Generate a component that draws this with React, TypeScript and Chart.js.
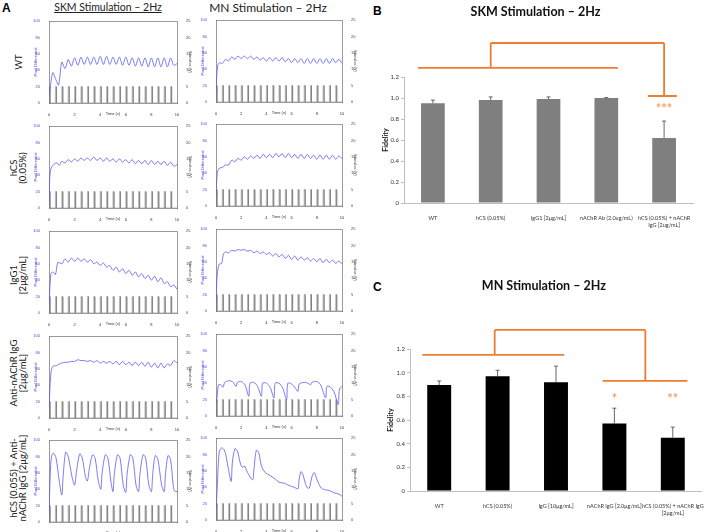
import { useEffect, useRef } from "react";
import { Chart, registerables } from "chart.js";

Chart.register(...registerables);

// ---------------- Panel A : traces ----------------
const timeTicks = [0, 2, 4, 6, 8, 10];
const pixelTicks = [0, 20, 40, 60, 80, 100];
const stimulusTicks = [0, 5, 10, 15, 20, 25];
const stimulusPulseStarts = [0, 0.5, 1, 1.5, 2, 2.5, 3, 3.5, 4, 4.5, 5, 5.5, 6, 6.5, 7, 7.5, 8, 8.5, 9, 9.5];
const stimulusPulseWidth = 0.08;
const stimulusVolts = 5;

const traceSkmWT = [[0,10],[0.1,20],[0.3,37],[0.5,30],[0.75,22],[1.0,50],[1.25,42],[1.5,53],[1.75,45],[2.0,55],[2.25,46],[2.5,56],[2.75,47],[3.0,56],[3.25,47],[3.5,56],[3.75,47],[4.0,57],[4.25,47],[4.5,57],[4.75,47],[5.0,56],[5.25,47],[5.5,56],[5.75,46],[6.0,56],[6.25,46],[6.5,55],[6.75,45],[7.0,55],[7.25,45],[7.5,55],[7.75,44],[8.0,55],[8.25,44],[8.5,55],[8.75,44],[9.0,55],[9.25,44],[9.5,55],[9.75,46],[10,48]];
const traceMnWT = [[0,12],[0.05,30],[0.15,45],[0.3,48],[0.5,47],[0.75,52],[1.0,50],[1.25,55],[1.5,52],[1.75,56],[2.0,53],[2.25,56],[2.5,53],[2.75,56],[3.0,52],[3.25,55],[3.5,51],[3.75,54],[4.0,50],[4.25,54],[4.5,50],[4.75,54],[5.0,50],[5.25,54],[5.5,49],[5.75,53],[6.0,48],[6.25,53],[6.5,48],[6.75,53],[7.0,47],[7.25,53],[7.5,47],[7.75,53],[8.0,47],[8.25,53],[8.5,47],[8.75,53],[9.0,47],[9.25,53],[9.5,48],[9.75,52],[10,47]];
const traceSkmHcs = [[0,10],[0.1,45],[0.3,52],[0.6,55],[0.8,52],[1.0,57],[1.25,55],[1.5,59],[1.75,56],[2.0,60],[2.25,57],[2.5,61],[2.75,58],[3.0,61],[3.25,58],[3.5,62],[3.75,58],[4.0,61],[4.25,57],[4.5,61],[4.75,57],[5.0,60],[5.25,56],[5.5,60],[5.75,56],[6.0,59],[6.25,55],[6.5,59],[6.75,54],[7.0,58],[7.25,54],[7.5,58],[7.75,53],[8.0,58],[8.25,53],[8.5,57],[8.75,53],[9.0,57],[9.25,52],[9.5,56],[9.75,51],[10,53]];
const traceMnHcs = [[0,10],[0.1,40],[0.25,46],[0.5,47],[0.75,50],[1.0,50],[1.25,56],[1.5,54],[1.75,58],[2.0,56],[2.25,60],[2.5,57],[2.75,61],[3.0,58],[3.25,62],[3.5,58],[3.75,63],[4.0,59],[4.25,63],[4.5,59],[4.75,64],[5.0,60],[5.25,64],[5.5,59],[5.75,64],[6.0,59],[6.25,63],[6.5,58],[6.75,63],[7.0,58],[7.25,63],[7.5,58],[7.75,62],[8.0,57],[8.25,62],[8.5,57],[8.75,62],[9.0,57],[9.25,62],[9.5,57],[9.75,61],[10,58]];
const traceSkmIgg = [[0,10],[0.15,48],[0.3,50],[0.5,47],[0.7,62],[1.0,60],[1.25,66],[1.5,62],[1.75,67],[2.0,63],[2.25,67],[2.5,63],[2.75,66],[3.0,62],[3.25,65],[3.5,60],[3.75,62],[4.0,58],[4.25,61],[4.5,56],[4.75,58],[5.0,52],[5.25,56],[5.5,50],[5.75,54],[6.0,48],[6.25,52],[6.5,46],[6.75,50],[7.0,44],[7.25,48],[7.5,42],[7.75,46],[8.0,40],[8.25,45],[8.5,38],[8.75,43],[9.0,36],[9.25,38],[9.5,32],[9.75,34],[10,29]];
const traceMnIgg = [[0,10],[0.1,45],[0.25,57],[0.45,58],[0.6,70],[0.8,72],[1.0,71],[1.25,74],[1.5,73],[1.75,75],[2.0,74],[2.25,75],[2.5,73],[2.75,74],[3.0,71],[3.25,73],[3.5,70],[3.75,72],[4.0,69],[4.25,71],[4.5,67],[4.75,70],[5.0,66],[5.25,69],[5.5,64],[5.75,68],[6.0,63],[6.25,67],[6.5,62],[6.75,66],[7.0,62],[7.25,65],[7.5,61],[7.75,64],[8.0,60],[8.25,64],[8.5,59],[8.75,63],[9.0,59],[9.25,62],[9.5,58],[9.75,61],[10,57]];
const traceSkmAnti = [[0,12],[0.15,55],[0.3,63],[0.6,64],[0.8,66],[1.0,67],[1.25,68],[1.5,68],[1.75,69],[2.0,69],[2.25,71],[2.5,70],[2.75,70],[3.0,69],[3.25,70],[3.5,68],[3.75,70],[4.0,67],[4.25,69],[4.5,67],[4.75,69],[5.0,66],[5.25,69],[5.5,65],[5.75,69],[6.0,65],[6.25,68],[6.5,64],[6.75,68],[7.0,64],[7.25,68],[7.5,63],[7.75,68],[8.0,62],[8.25,67],[8.5,61],[8.75,67],[9.0,61],[9.25,66],[9.5,64],[9.75,70],[10,67]];
const traceMnAnti = [[0,15],[0.1,25],[0.2,38],[0.4,38],[0.55,35],[0.7,41],[1.0,43],[1.3,42],[1.6,36],[1.7,41],[2.0,42],[2.3,38],[2.6,24],[2.7,40],[3.0,41],[3.3,36],[3.6,24],[3.7,40],[4.0,40],[4.3,35],[4.6,22],[4.7,40],[5.0,40],[5.3,34],[5.6,20],[5.7,40],[6.0,39],[6.3,34],[6.5,30],[6.6,39],[7.0,41],[7.3,40],[7.5,38],[7.6,41],[8.0,42],[8.3,38],[8.7,22],[8.8,36],[9.1,35],[9.4,28],[9.7,14],[9.8,33],[10,36]];
const traceSkmCombo = [[0,10],[0.1,60],[0.2,80],[0.35,84],[0.55,78],[0.8,50],[1.0,33],[1.1,55],[1.3,85],[1.5,80],[1.8,55],[2.0,45],[2.15,62],[2.4,83],[2.6,78],[2.85,55],[3.0,50],[3.15,65],[3.4,82],[3.6,78],[3.85,50],[4.05,40],[4.15,60],[4.4,82],[4.6,78],[4.85,48],[5.0,37],[5.1,58],[5.35,82],[5.55,78],[5.8,45],[6.0,36],[6.1,58],[6.35,82],[6.55,78],[6.8,45],[7.0,37],[7.1,58],[7.35,82],[7.55,78],[7.8,45],[8.0,37],[8.1,58],[8.3,81],[8.5,77],[8.8,45],[9.0,37],[9.1,58],[9.3,81],[9.5,76],[9.7,45],[9.8,38],[10,37]];
const traceMnCombo = [[0,12],[0.1,40],[0.25,82],[0.45,88],[0.7,84],[0.95,65],[1.2,47],[1.3,70],[1.5,87],[1.7,84],[1.95,68],[2.1,64],[2.25,66],[2.5,58],[2.9,49],[3.0,60],[3.2,85],[3.4,82],[3.6,66],[3.9,58],[4.3,54],[4.7,50],[5.0,46],[5.4,45],[5.8,42],[6.2,40],[6.5,38],[6.6,50],[6.75,59],[6.9,55],[7.2,40],[7.4,39],[7.6,52],[7.8,58],[8.0,50],[8.3,40],[8.6,37],[9.0,36],[9.4,33],[9.7,32],[10,29]];

// ---------------- Panel B ----------------
const skmCategories = ["WT", "hCS (0.05%)", "IgG1 [2μg/mL]", "nAChR Ab (2.0ug/mL)", ["hCS (0.05%) + nAChR", "IgG [2ug/mL]"]];
const skmFidelity = [0.95, 0.98, 0.99, 1.0, 0.62];
const skmFidelityErr = [0.03, 0.03, 0.02, 0.004, 0.16];

// ---------------- Panel C ----------------
const mnCategories = ["WT", "hCS (0.05%)", "IgG [10μg/mL]", "nAChR IgG [2.0μg/mL]", ["hCS (0.05%) + nAChR IgG", "[2μg/mL]"]];
const mnFidelity = [0.895, 0.97, 0.92, 0.57, 0.45];
const mnFidelityErr = [0.035, 0.05, 0.135, 0.13, 0.09];

const fidelityTicks = [0, 0.2, 0.4, 0.6, 0.8, 1, 1.2];

const ORANGE = "#ED7D31";
const ORANGE_LIGHT = "#F2A266";

const boxPlugin = {
  id: "boxTop",
  afterDraw(chart: any) {
    const { ctx, chartArea } = chart;
    ctx.save();
    ctx.strokeStyle = "#555";
    ctx.lineWidth = 0.6;
    ctx.beginPath();
    ctx.moveTo(chartArea.left, chartArea.top + 0.5);
    ctx.lineTo(chartArea.right, chartArea.top + 0.5);
    ctx.stroke();
    ctx.restore();
  },
};

const errorBarPlugin = {
  id: "errorBars",
  afterDatasetsDraw(chart: any, _args: any, opts: any) {
    const { ctx } = chart;
    const meta = chart.getDatasetMeta(0);
    const ys = chart.scales.y;
    const vals = chart.data.datasets[0].data;
    ctx.save();
    ctx.strokeStyle = opts.color || "#333";
    ctx.lineWidth = 0.8;
    meta.data.forEach((bar: any, i: number) => {
      const x = bar.x;
      const y0 = ys.getPixelForValue(vals[i]);
      const y1 = ys.getPixelForValue(vals[i] + opts.errors[i]);
      ctx.beginPath();
      ctx.moveTo(x, y0);
      ctx.lineTo(x, y1);
      ctx.moveTo(x - 2, y1);
      ctx.lineTo(x + 2, y1);
      ctx.stroke();
    });
    ctx.restore();
  },
};

const bracketPlugin = {
  id: "brackets",
  afterDraw(chart: any, _args: any, opts: any) {
    const { ctx } = chart;
    const xs = chart.scales.x;
    const ys = chart.scales.y;
    ctx.save();
    ctx.strokeStyle = ORANGE;
    ctx.lineWidth = 1.8;
    ctx.beginPath();
    (opts.segments || []).forEach((s: number[]) => {
      ctx.moveTo(xs.getPixelForValue(s[0]), ys.getPixelForValue(s[1]));
      ctx.lineTo(xs.getPixelForValue(s[2]), ys.getPixelForValue(s[3]));
    });
    ctx.stroke();
    ctx.fillStyle = ORANGE_LIGHT;
    ctx.font = "bold 13px Lato";
    ctx.textAlign = "center";
    ctx.textBaseline = "middle";
    (opts.marks || []).forEach((m: any) => {
      ctx.fillText(m.text, xs.getPixelForValue(m.x), ys.getPixelForValue(m.y));
    });
    ctx.restore();
  },
};

function setTicks(values: number[]) {
  return (scale: any) => {
    scale.ticks = values.map((v) => ({ value: v }));
  };
}

type TraceProps = { trace: number[][]; left: number; top: number; width: number; height: number };

function TraceChart({ trace, left, top, width, height }: TraceProps) {
  const ref = useRef<HTMLCanvasElement>(null);
  const AX_L = 17, AX_R = 17, PAD_T = 4, AX_B = 13;
  const cw = width + AX_L + AX_R;
  const ch = height + PAD_T + AX_B;
  useEffect(() => {
    const stim: { x: number; y: number }[] = [];
    stimulusPulseStarts.forEach((t) => {
      stim.push({ x: t, y: 0 }, { x: t, y: stimulusVolts }, { x: t + stimulusPulseWidth, y: stimulusVolts }, { x: t + stimulusPulseWidth, y: 0 });
    });
    stim.push({ x: 10, y: 0 });
    const small = { family: "Liberation Sans", size: 4 };
    const chart = new Chart(ref.current as HTMLCanvasElement, {
      type: "line",
      data: {
        datasets: [
          { data: trace.map(([x, y]) => ({ x, y })), borderColor: "#5b5bef", borderWidth: 0.8, pointRadius: 0, tension: 0.3, yAxisID: "y" },
          { data: stim, borderColor: "#6f6f6f", borderWidth: 0.5, pointRadius: 0, tension: 0, yAxisID: "y1" },
        ],
      },
      options: {
        animation: false,
        responsive: false,
        devicePixelRatio: 1,
        layout: { padding: { top: PAD_T, left: 0, right: 0, bottom: 0 } },
        plugins: { legend: { display: false }, tooltip: { enabled: false } },
        scales: {
          x: {
            type: "linear", min: 0, max: 10,
            afterBuildTicks: setTicks(timeTicks),
            grid: { display: false }, border: { display: true, color: "#555", width: 0.6 },
            ticks: { font: small, color: "#333", padding: 1, maxRotation: 0 },
            title: { display: true, text: "Time (s)", font: small, color: "#333", padding: 0 },
            afterFit: (s: any) => { s.height = AX_B; },
          },
          y: {
            position: "left", min: 0, max: 100,
            afterBuildTicks: setTicks(pixelTicks),
            grid: { display: false }, border: { display: true, color: "#555", width: 0.6 },
            ticks: { font: small, color: "#4a4ae0", padding: 1 },
            title: { display: true, text: "Pixel Differential", font: small, color: "#4a4ae0", padding: 1 },
            afterFit: (s: any) => { s.width = AX_L; },
          },
          y1: {
            position: "right", min: 0, max: 25,
            afterBuildTicks: setTicks(stimulusTicks),
            grid: { display: false }, border: { display: true, color: "#555", width: 0.6 },
            ticks: { font: small, color: "#444", padding: 1 },
            title: { display: true, text: "Stimulus (V)", font: small, color: "#444", padding: 1 },
            afterFit: (s: any) => { s.width = AX_R; },
          },
        },
      } as any,
      plugins: [boxPlugin],
    });
    return () => chart.destroy();
  }, [trace]);
  return (
    <canvas
      ref={ref}
      width={cw}
      height={ch}
      style={{ position: "absolute", left: left - AX_L, top: top - PAD_T, width: cw, height: ch }}
    />
  );
}

type BarProps = {
  left: number; top: number; width: number; height: number;
  title: string; titleTop: number; titleBottom: number;
  labels: any[]; values: number[]; errors: number[]; color: string;
  pad: { left: number; right: number; bottom: number }; yAxisWidth: number;
  segments: number[][]; marks: { x: number; y: number; text: string }[];
};

function BarChart(p: BarProps) {
  const ref = useRef<HTMLCanvasElement>(null);
  useEffect(() => {
    const chart = new Chart(ref.current as HTMLCanvasElement, {
      type: "bar",
      data: {
        labels: p.labels,
        datasets: [{ data: p.values, backgroundColor: p.color, barPercentage: 0.41, categoryPercentage: 1 }],
      },
      options: {
        animation: false,
        responsive: false,
        devicePixelRatio: 1,
        layout: { padding: { left: p.pad.left, right: p.pad.right, top: 0, bottom: p.pad.bottom } },
        plugins: {
          legend: { display: false },
          tooltip: { enabled: false },
          title: {
            display: true, text: p.title, color: "#111",
            font: { family: "Lato", size: 12.5, weight: "bold", lineHeight: 1.2 },
            padding: { top: p.titleTop, bottom: p.titleBottom },
          },
          errorBars: { errors: p.errors, color: "#404040" },
          brackets: { segments: p.segments, marks: p.marks },
        },
        scales: {
          x: {
            grid: { display: false },
            border: { display: true, color: "#bfbfbf" },
            ticks: { font: { family: "Lato", size: 5.5 }, color: "#333", maxRotation: 0, minRotation: 0, autoSkip: false, padding: 4 },
            afterFit: (s: any) => { s.height = 30; },
          },
          y: {
            min: 0, max: 1.2,
            afterBuildTicks: setTicks(fidelityTicks),
            grid: { display: true, drawOnChartArea: false, tickLength: 3, color: "#bfbfbf" },
            border: { display: true, color: "#bfbfbf" },
            ticks: { font: { family: "Lato", size: 6 }, color: "#333", padding: 2 },
            title: { display: true, text: "Fidelity", color: "#111", font: { family: "Lato", size: 7, weight: "bold" }, padding: { top: 4, bottom: 0 } },
            afterFit: (s: any) => { s.width = p.yAxisWidth; },
          },
        },
      } as any,
      plugins: [errorBarPlugin, bracketPlugin],
    });
    return () => chart.destroy();
  }, []);
  return (
    <canvas
      ref={ref}
      width={p.width}
      height={p.height}
      style={{ position: "absolute", left: p.left, top: p.top, width: p.width, height: p.height }}
    />
  );
}

const rowTraces = [
  [traceSkmWT, traceMnWT],
  [traceSkmHcs, traceMnHcs],
  [traceSkmIgg, traceMnIgg],
  [traceSkmAnti, traceMnAnti],
  [traceSkmCombo, traceMnCombo],
];
const rowLabels = [
  ["WT"],
  ["hCS", "(0.05%)"],
  ["IgG1", "[2μg/mL]"],
  ["Anti-nAChR IgG", "[2μg/mL]"],
  ["hCS (0.055) + Anti-", "nAChR IgG [2μg/mL]"],
];

export default function App() {
  const leftTops = [21, 126, 231, 336, 440];
  const rightTops = [20, 124, 229, 334, 438];
  const labelCenters = [62, 168, 275, 373, 478];
  const calibri = "Lato, 'Open Sans', sans-serif";
  return (
    <div style={{ position: "absolute", left: 0, top: 0, width: 708, height: 532, background: "#fff", overflow: "hidden", fontFamily: calibri }}>
      <div style={{ position: "absolute", left: 2, top: 1, fontWeight: "bold", fontSize: 12, fontFamily: "Liberation Sans" }}>A</div>
      <div style={{ position: "absolute", left: 108, top: 7, transform: "translate(-50%,-50%)", fontSize: 10.5, whiteSpace: "nowrap", textDecoration: "underline", color: "#222" }}>SKM Stimulation – 2Hz</div>
      <div style={{ position: "absolute", left: 268, top: 7, transform: "translate(-50%,-50%)", fontSize: 12, whiteSpace: "nowrap", color: "#222" }}>MN Stimulation – 2Hz</div>
      {rowLabels.map((lines, i) => (
        <div key={i} style={{ position: "absolute", left: 18, top: labelCenters[i], transform: "translate(-50%,-50%) rotate(-90deg)", fontSize: 9.5, lineHeight: "9px", whiteSpace: "nowrap", textAlign: "center", color: "#222" }}>
          {lines.map((l, j) => (<div key={j}>{l}</div>))}
        </div>
      ))}
      {rowTraces.map((pair, i) => (
        <div key={i}>
          <TraceChart trace={pair[0]} left={49} top={leftTops[i]} width={128} height={82} />
          <TraceChart trace={pair[1]} left={216} top={rightTops[i]} width={126} height={82} />
        </div>
      ))}
      <div style={{ position: "absolute", left: 373, top: 4, fontWeight: "bold", fontSize: 12, fontFamily: "Liberation Sans" }}>B</div>
      <div style={{ position: "absolute", left: 373, top: 280, fontWeight: "bold", fontSize: 12, fontFamily: "Liberation Sans" }}>C</div>
      <BarChart
        left={360} top={0} width={348} height={260}
        title="SKM Stimulation – 2Hz" titleTop={4.5} titleBottom={57.5}
        labels={skmCategories} values={skmFidelity} errors={skmFidelityErr} color="#7f7f7f"
        pad={{ left: 18, right: 15, bottom: 27 }} yAxisWidth={26}
        segments={[[-0.26, 1.286, 3.2, 1.286], [1, 1.286, 1, 1.524], [1, 1.524, 4, 1.524], [4, 1.524, 4, 1.019], [3.72, 1.019, 4.22, 1.019]]}
        marks={[{ x: 4, y: 0.9, text: "***" }]}
      />
      <BarChart
        left={360} top={260} width={348} height={272}
        title="MN Stimulation – 2Hz" titleTop={18.3} titleBottom={55.7}
        labels={mnCategories} values={mnFidelity} errors={mnFidelityErr} color="#000000"
        pad={{ left: 22.8, right: 3, bottom: 11 }} yAxisWidth={27.2}
        segments={[[-0.29, 1.15, 2.14, 1.15], [0.95, 1.15, 0.95, 1.361], [0.95, 1.361, 3.53, 1.361], [3.53, 1.361, 3.53, 0.93], [2.8, 0.93, 4.25, 0.93]]}
        marks={[{ x: 3, y: 0.78, text: "*" }, { x: 4, y: 0.78, text: "**" }]}
      />
    </div>
  );
}
